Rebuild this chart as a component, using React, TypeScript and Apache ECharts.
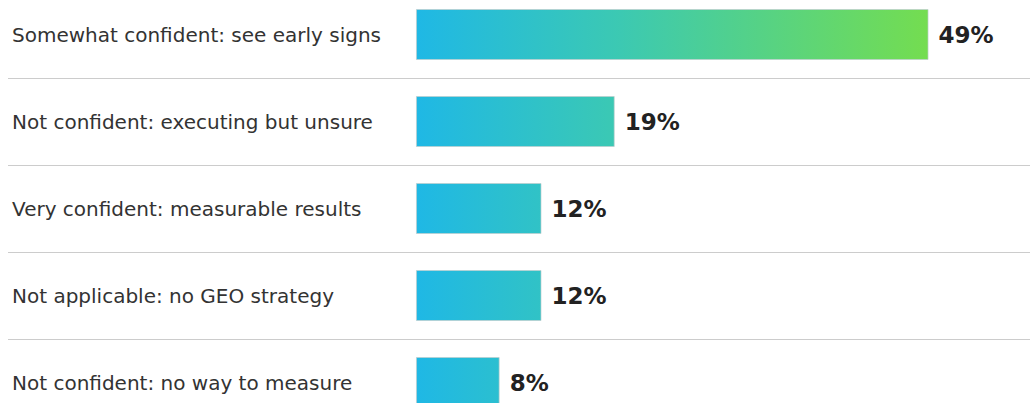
import React, { useEffect, useRef } from "react";
import * as echarts from "echarts";

const categories = [
  "Somewhat confident: see early signs",
  "Not confident: executing but unsure",
  "Very confident: measurable results",
  "Not applicable: no GEO strategy",
  "Not confident: no way to measure",
];
const values = [49, 19, 12, 12, 8];

export default function App() {
  const ref = useRef<HTMLDivElement>(null);
  useEffect(() => {
    if (!ref.current) return;
    const chart = echarts.init(ref.current, null, { renderer: "svg" });
    const gradient = new echarts.graphic.LinearGradient(
      416, 0, 928, 0,
      [
        { offset: 0, color: "#1fb8e5" },
        { offset: 0.4, color: "#3cc9b2" },
        { offset: 1, color: "#74dd50" },
      ],
      true
    );
    chart.setOption({
      animation: false,
      backgroundColor: "#ffffff",
      grid: { left: 8, right: 0, top: 0, bottom: 0, containLabel: false },
      xAxis: {
        type: "value",
        min: -39,
        max: 58.7,
        show: false,
        splitLine: { show: false },
      },
      yAxis: {
        type: "category",
        data: categories,
        inverse: true,
        axisLine: { show: false },
        axisTick: { show: false },
        splitLine: { show: true, lineStyle: { color: "#cccccc", width: 1 } },
        axisLabel: {
          inside: true,
          margin: 4,
          align: "left",
          color: "#333333",
          fontFamily: "DejaVu Sans",
          fontSize: 20,
        },
      },
      series: [
        {
          type: "bar",
          data: values,
          barWidth: 51,
          itemStyle: {
            color: gradient,
            borderColor: "rgba(190,205,205,0.7)",
            borderWidth: 1,
          },
          label: {
            show: true,
            position: "right",
            distance: 10,
            formatter: "{c}%",
            color: "#222222",
            fontFamily: "DejaVu Sans",
            fontWeight: "bold",
            fontSize: 23,
          },
        },
      ],
    });
    return () => chart.dispose();
  }, []);
  return (
    <div
      ref={ref}
      style={{ position: "absolute", left: 0, top: -9.5, width: 1030, height: 435 }}
    />
  );
}
